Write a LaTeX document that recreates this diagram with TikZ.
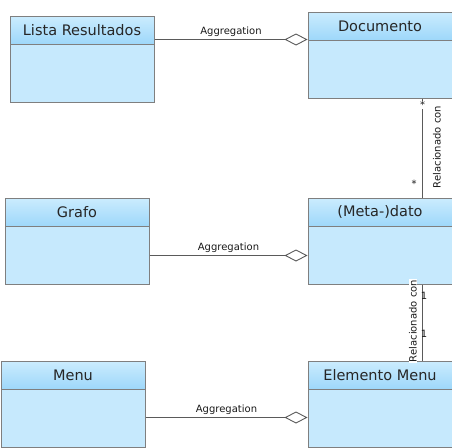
\documentclass[tikz,border=0pt]{standalone}
\usepackage{fontspec}
\setmainfont{DejaVu Sans}
\usetikzlibrary{arrows.meta,calc}
\definecolor{headtop}{HTML}{CBECFE}
\definecolor{headbot}{HTML}{9DD7FA}
\definecolor{bodyfill}{HTML}{C6E9FD}
\definecolor{bordc}{HTML}{7F7F7F}
\definecolor{linec}{HTML}{5A5A5A}
\begin{document}
\begin{tikzpicture}[x=1pt,y=-1pt,
  classbody/.style={draw=bordc, line width=1pt, fill=bodyfill, minimum width=144pt, minimum height=86pt, anchor=north west, inner sep=0pt},
  classhead/.style={draw=bordc, line width=1pt, top color=headtop, bottom color=headbot, minimum width=144pt, minimum height=28.5pt, anchor=north west, inner sep=0pt, font=\fontsize{14.5}{17}\selectfont, text=black!85},
  assoc/.style={draw=linec, line width=0.9pt},
  agg/.style={assoc, -{Diamond[open, fill=white, length=23pt, width=12pt, line width=0.9pt]}},
  small/.style={font=\fontsize{10}{12}\selectfont, inner sep=1pt, text=black!90},
]
\useasboundingbox (0,0) rectangle (452,447);

% classes
\node[classbody] (lista) at (9.5,15.5) {};
\node[classhead] (listah) at (lista.north west) {Lista Resultados};
\node[classbody] (doc) at (307.5,11.5) {};
\node[classhead] (doch) at (doc.north west) {Documento};
\node[classbody] (grafo) at (4.5,197.5) {};
\node[classhead] (grafoh) at (grafo.north west) {Grafo};
\node[classbody] (meta) at (307.5,197.5) {};
\node[classhead] (metah) at (meta.north west) {(Meta-)dato};
\node[classbody] (menu) at (0.5,360.5) {};
\node[classhead] (menuh) at (menu.north west) {Menu};
\node[classbody] (elem) at (307.5,360.5) {};
\node[classhead] (elemh) at (elem.north west) {Elemento Menu};

% aggregations
\coordinate (docA) at (307.5,39.5);
\draw[agg] (lista.east |- docA) -- (docA) node[midway, above=1.5pt, small] (l1) {Aggregation};
\coordinate (metaA) at (307.5,255.5);
\draw[agg] (grafo.east |- metaA) -- (metaA) node[midway, above=1.5pt, small] (l2) {Aggregation};
\coordinate (elemA) at (307.5,417.5);
\draw[agg] (menu.east |- elemA) -- (elemA) node[midway, above=1.5pt, small] (l3) {Aggregation};

% associations
\coordinate (vx) at (422.5,0);
\draw[assoc] (doc.south -| vx) -- (meta.north -| vx);
\node[small, fill=white, inner sep=0.5pt] (s1) at (422.5,105) {*};
\node[small] (s2) at (414,184) {*};
\node[small, rotate=90] (r1) at (437,147) {Relacionado con};

\draw[assoc] (meta.south -| vx) -- (elem.north -| vx);
\node[small, rotate=90, fill=white, inner sep=0.5pt] (r2) at (413,321) {Relacionado con};
\node[small] (o1) at (424,296) {1};
\node[small] (o2) at (424,334) {1};
\end{tikzpicture}
\end{document}
